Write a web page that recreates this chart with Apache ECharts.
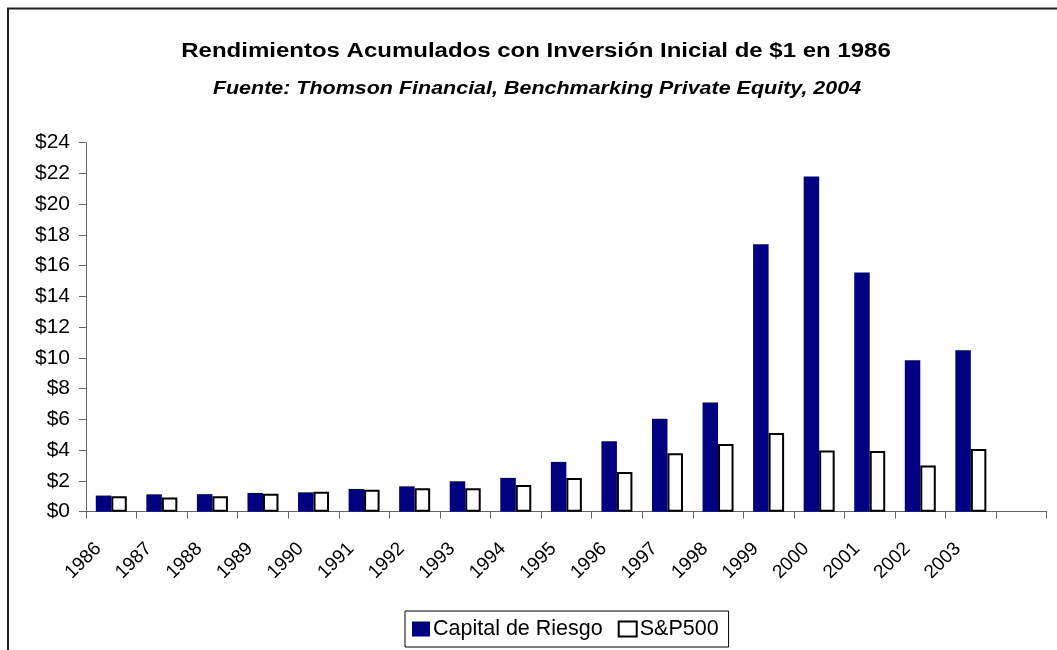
<!DOCTYPE html>
<html>
<head>
<meta charset="utf-8">
<script src="https://cdn.jsdelivr.net/npm/echarts@6/dist/echarts.min.js"></script>
<style>
html,body{margin:0;padding:0;background:#fff;}
#chart{width:1057px;height:650px;}
</style>
</head>
<body>
<div id="chart"></div>
<script>
var years = ['1986','1987','1988','1989','1990','1991','1992','1993','1994','1995','1996','1997','1998','1999','2000','2001','2002','2003',''];
var capitalRiesgo = [1.05, 1.13, 1.14, 1.22, 1.26, 1.48, 1.65, 1.98, 2.2, 3.24, 4.58, 6.05, 7.1, 17.4, 21.8, 15.55, 9.85, 10.5];
var sp500 = [1.0, 0.93, 1.0, 1.17, 1.29, 1.42, 1.53, 1.53, 1.73, 2.19, 2.59, 3.8, 4.4, 5.12, 3.98, 3.94, 3.0, 4.08];
var yTicks = [0, 24, 2];
var titleText = 'Rendimientos Acumulados con Inversión Inicial de $1 en 1986';
var subText = 'Fuente: Thomson Financial, Benchmarking Private Equity, 2004';

var chart = echarts.init(document.getElementById('chart'), null, {renderer:'canvas'});
var font = 'Liberation Sans, Arial, sans-serif';
chart.setOption({
  animation: false,
  backgroundColor: '#fff',
  graphic: [{
    type: 'rect', silent: true, z: -1,
    shape: {x: 8, y: 8.5, width: 1200, height: 800},
    style: {fill: '#fff', stroke: '#222', lineWidth: 2}
  },{
    type: 'text', silent: true,
    x: 536, y: 51.5, scaleX: 1.2, originX: 0, originY: 0,
    style: {text: titleText, x: 0, y: 0, align: 'center', verticalAlign: 'middle',
      fontFamily: font, fontWeight: 'bold', fontSize: 20, fill: '#000'}
  },{
    type: 'text', silent: true,
    x: 537, y: 88.5, scaleX: 1.13, originX: 0, originY: 0,
    style: {text: subText, x: 0, y: 0, align: 'center', verticalAlign: 'middle',
      fontFamily: font, fontWeight: 'bold', fontStyle: 'italic', fontSize: 19, fill: '#000'}
  }],
  legend: {
    left: 405, top: 611,
    padding: [7, 10, 7, 7],
    itemWidth: 18, itemHeight: 15, itemGap: 15,
    borderColor: '#000', borderWidth: 1,
    textStyle: {fontFamily: font, fontSize: 21.5, lineHeight: 21, color: '#000', padding: [0, 0, 0, -2]},
    data: [
      {name: 'Capital de Riesgo', icon: 'rect', itemStyle: {color: '#000080', borderWidth: 0}},
      {name: 'S&P500', icon: 'rect', itemStyle: {color: '#fff', borderColor: '#000', borderWidth: 2}}
    ]
  },
  grid: {left: 86, right: 10.3, top: 142.7, bottom: 138.3, containLabel: false},
  xAxis: {
    type: 'category',
    data: years,
    boundaryGap: true,
    axisLine: {lineStyle: {color: '#666', width: 1}},
    axisTick: {show: true, length: 7, lineStyle: {color: '#666'}},
    axisLabel: {rotate: 45, margin: 21, padding: [0, 18.5, 0, 0], fontFamily: font, fontSize: 19, color: '#000', interval: 0},
    splitLine: {show: false}
  },
  yAxis: {
    type: 'value',
    min: yTicks[0], max: yTicks[1], interval: yTicks[2],
    axisLine: {show: true, lineStyle: {color: '#666', width: 1}},
    axisTick: {show: true, length: 7, inside: false, lineStyle: {color: '#666'}},
    axisLabel: {margin: 16, fontFamily: font, fontSize: 21, color: '#000', formatter: function(v){ return '$' + v; }},
    splitLine: {show: false}
  },
  series: [{
    name: 'Capital de Riesgo', type: 'bar', data: capitalRiesgo,
    barWidth: 15.5, barGap: '0%',
    itemStyle: {color: '#000080'}
  },{
    name: 'S&P500', type: 'bar', data: sp500,
    barWidth: 15.5, barGap: '0%',
    itemStyle: {color: '#fff', borderColor: '#000', borderWidth: 2}
  }]
});
</script>
</body>
</html>
